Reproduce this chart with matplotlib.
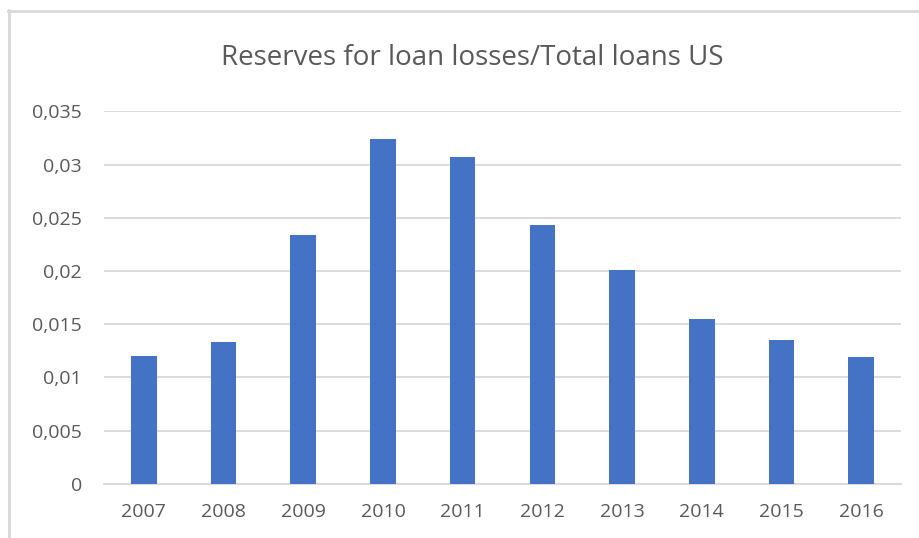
import numpy as np
import matplotlib
matplotlib.use("Agg")
import matplotlib.pyplot as plt
from matplotlib.ticker import FuncFormatter, MultipleLocator
from matplotlib.lines import Line2D

# Reserves for loan losses as a share of total loans, US banks
years = ["2007", "2008", "2009", "2010", "2011", "2012", "2013", "2014", "2015", "2016"]
reserve_ratio = [0.0120, 0.0133, 0.0234, 0.0324, 0.0307, 0.0243, 0.0201, 0.0155, 0.0135, 0.0119]

bar_color = "#4472C4"
grid_color = "#D9D9D9"
text_color = "#595959"

plt.rcParams["font.family"] = ["Open Sans", "DejaVu Sans"]

W, H = 920, 538
fig = plt.figure(figsize=(W / 100, H / 100), dpi=100)

# plot area in pixel terms
left, right, bottom, top = 104, 901, 483.7, 111.3
ax = fig.add_axes([left / W, 1 - bottom / H, (right - left) / W, (bottom - top) / H])

x = np.arange(len(years))
ax.bar(x, reserve_ratio, width=0.32, color=bar_color, zorder=3)

ax.set_xlim(-0.5, len(years) - 0.5)
ax.set_ylim(0, 0.035)
ax.yaxis.set_major_locator(MultipleLocator(0.005))
ax.yaxis.set_major_formatter(FuncFormatter(lambda v, p: ("%g" % round(v, 4)).replace(".", ",")))
ax.set_xticks(x)
ax.set_xticklabels(years)

ax.grid(axis="y", color=grid_color, linewidth=1.3, zorder=0)
for s in ["top", "right", "left"]:
    ax.spines[s].set_visible(False)
ax.spines["bottom"].set_color(grid_color)
ax.spines["bottom"].set_linewidth(1.3)
ax.tick_params(axis="both", length=0, labelsize=14, labelcolor=text_color)
ax.tick_params(axis="y", pad=16)
ax.tick_params(axis="x", pad=14)

fig.text(472 / W, 1 - 58 / H, "Reserves for loan losses/Total loans US",
         ha="center", va="center", fontsize=20, color=text_color)

# chart frame (top and left edges)
fig.add_artist(Line2D([9 / W, 9 / W], [0, 1 - 10 / H], color=grid_color, linewidth=2, transform=fig.transFigure))
fig.add_artist(Line2D([8 / W, 1], [1 - 11 / H, 1 - 11 / H], color=grid_color, linewidth=2, transform=fig.transFigure))

fig.savefig("out.png", dpi=100, facecolor="white")
